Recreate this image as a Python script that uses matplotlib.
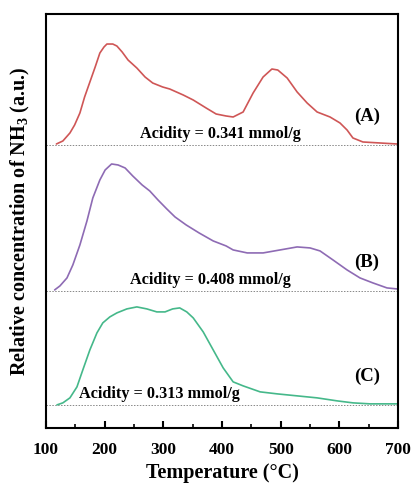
import matplotlib
matplotlib.use("Agg")
import matplotlib.pyplot as plt
from matplotlib.ticker import MultipleLocator

plt.rcParams['font.family'] = ['Liberation Serif', 'DejaVu Serif']
plt.rcParams['mathtext.fontset'] = 'custom'
plt.rcParams['mathtext.rm'] = 'Liberation Serif'
plt.rcParams['mathtext.bf'] = 'Liberation Serif:bold'

# TPD curves (temperature in °C, signal in a.u. above each baseline)
temp_a = [118, 129, 141, 149, 158, 166, 175, 184, 192, 199, 204, 214, 221, 230, 240, 255,
          269, 282, 299, 311, 334, 351, 373, 390, 407, 419, 436, 453, 470, 485, 495, 511,
          528, 545, 562, 584, 601, 613, 623, 640, 669, 698]
sig_a = [1, 4, 12, 20, 32, 48, 63, 78, 92, 98, 101, 101, 99, 93, 85, 77,
         68, 62, 58, 56, 50, 45, 37, 31, 29, 28, 33, 52, 68, 76, 75, 67,
         53, 42, 33, 28, 22, 15, 7, 3, 2, 1]

temp_b = [115, 124, 136, 146, 158, 170, 180, 192, 201, 212, 223, 235, 248, 264, 277, 291,
          306, 320, 339, 361, 385, 407, 419, 443, 470, 499, 528, 550, 567, 589, 613, 635,
          657, 681, 698]
sig_b = [1, 5, 13, 26, 46, 70, 93, 111, 121, 127, 126, 123, 115, 106, 100, 91,
         82, 74, 66, 58, 50, 45, 41, 38, 38, 41, 44, 43, 40, 31, 21, 13,
         8, 3, 2]

temp_c = [119, 129, 141, 153, 163, 175, 187, 197, 209, 221, 238, 255, 272, 289, 303, 316,
          328, 340, 351, 368, 385, 402, 419, 436, 465, 494, 528, 562, 596, 623, 652, 698]
sig_c = [0, 2, 7, 18, 35, 55, 72, 82, 88, 92, 96, 98, 96, 93, 93, 96,
         97, 93, 87, 73, 55, 37, 23, 19, 13, 11, 9, 7, 4, 2, 1, 1]

offsets = [283, 137, 23]
colors = ['#cf5656', '#8e6bb4', '#45b88a']
labels = ['(A)', '(B)', '(C)']
acidity = ['0.341', '0.408', '0.313']

fig = plt.figure(figsize=(4.13, 4.84), dpi=100)
ax = fig.add_axes([0.111, 0.116, 0.853, 0.855])

curves = [(temp_a, sig_a), (temp_b, sig_b), (temp_c, sig_c)]
for (t, s), off, c in zip(curves, offsets, colors):
    ax.axhline(off, color='#888888', lw=0.7, ls=(0, (1.5, 1.5)), zorder=1)
    ax.plot(t, [v + off for v in s], color=c, lw=1.2, zorder=2,
            solid_joinstyle='round', solid_capstyle='round')

# annotations
acid_x = [398, 380, 294]
for lab, acid, off, tx in zip(labels, acidity, offsets, acid_x):
    ax.text(tx, off + 3, 'Acidity = ' + acid + ' mmol/g', ha='center', va='bottom',
            fontsize=11.7, fontweight='bold')
    ax.text(647, off + 20, lab, ha='center', va='bottom', fontsize=13.5, fontweight='bold')

ax.set_xlim(100, 700)
ax.set_ylim(0, 414)
ax.xaxis.set_major_locator(MultipleLocator(100))
ax.xaxis.set_minor_locator(MultipleLocator(50))
ax.set_yticks([])
ax.tick_params(axis='x', which='major', direction='in', length=5, width=1.5,
               labelsize=12.5, pad=10, top=False)
ax.tick_params(axis='x', which='minor', direction='in', length=3, width=1.2, top=False)
for lab in ax.get_xticklabels():
    lab.set_fontweight('bold')
for sp in ax.spines.values():
    sp.set_linewidth(1.5)

ax.set_xlabel('Temperature (°C)', fontsize=14.5, fontweight='bold', labelpad=4)
ax.set_ylabel(r'Relative concentration of NH$_\mathbf{3}$ (a.u.)', fontsize=14.5,
              fontweight='bold', labelpad=10)

fig.savefig('out.png', dpi=100)
